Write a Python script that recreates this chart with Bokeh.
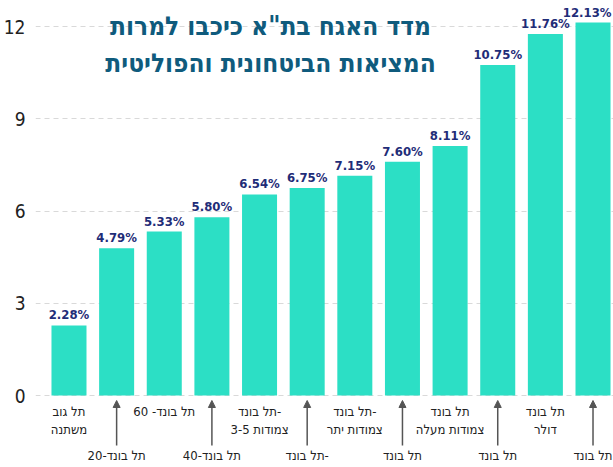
from bokeh.plotting import figure
from bokeh.models import Range1d, FixedTicker, ColumnDataSource, Arrow, NormalHead
from bokeh.core.properties import value
from bokeh.embed import file_html
from bokeh.resources import INLINE

# ---- data ----
labels = [
    "תל גוב\nמשתנה",
    "תל בונד-20",
    "תל בונד- 60",
    "תל בונד-40",
    "תל בונד-\nצמודות 3-5",
    "תל בונד-",
    "תל בונד-\nצמודות יתר",
    "תל בונד",
    "תל בונד\nצמודות מעלה",
    "תל בונד",
    "תל בונד\nדולר",
    "תל בונד",
]
values = [2.28, 4.79, 5.33, 5.80, 6.54, 6.75, 7.15, 7.60, 8.11, 10.75, 11.76, 12.13]
y_ticks = [0, 3, 6, 9, 12]
title_text = "מדד האגח בת\"א כיכבו למרות\nהמציאות הביטחונית והפוליטית"

FONT = "DejaVu Sans Condensed"
BAR = "#2cdfc5"
NAVY = "#1f2d78"
TITLE_C = "#0f5b7d"

W, H = 613, 467
LEFT = 35
X0, X1 = -0.703, 11.43
PX_X = (W - LEFT) / (X1 - X0)   # px per category
PX_Y = 30.75                    # px per unit
VAL_FS = 13

idx = list(range(len(values)))
vlab = [f"{v:.2f}%" for v in values]
# keep value labels inside the right edge of the frame
est_w = [VAL_FS * (0.626 * sum(c.isdigit() for c in s) + 0.342 + 0.902) for s in vlab]
xoff = [min(0.0, (W - LEFT - 2) - ((i - X0) * PX_X + w / 2)) for i, w in zip(idx, est_w)]
src = ColumnDataSource(dict(x=idx, top=values, vlab=vlab, xoff=xoff))

up = [i for i in idx if i % 2 == 0]
lo = [i for i in idx if i % 2 == 1]
src_up = ColumnDataSource(dict(x=up, y=[0] * len(up), lab=[labels[i] for i in up]))
src_lo = ColumnDataSource(dict(x=lo, y=[0] * len(lo), lab=[labels[i] for i in lo]))

p = figure(width=W, height=H, output_backend="svg", toolbar_location=None,
           x_range=Range1d(X0, X1), y_range=Range1d(-72 / PX_Y, 395 / PX_Y),
           x_axis_location=None, min_border_left=LEFT, min_border_right=0,
           min_border_top=0, min_border_bottom=0)
p.outline_line_color = None
p.background_fill_color = "white"

# y axis
ax = p.yaxis[0]
ax.ticker = FixedTicker(ticks=y_ticks)
ax.axis_line_color = None
ax.major_tick_line_color = None
ax.minor_tick_line_color = None
ax.major_tick_out = 0
ax.major_label_standoff = 10
ax.major_label_text_font = FONT
ax.major_label_text_font_size = "19px"
ax.major_label_text_color = "#222222"

p.ygrid.ticker = FixedTicker(ticks=y_ticks)
p.ygrid.grid_line_color = "#d9d9d9"
p.ygrid.grid_line_dash = "5 4"
for g in p.xgrid:
    g.visible = False

# bars
p.vbar(x="x", top="top", bottom=0, width=0.735, source=src,
       fill_color=BAR, line_color=None)

# value labels
p.text(x="x", y="top", text="vlab", source=src, text_align="center",
       text_baseline="bottom", y_offset=-3, x_offset="xoff", text_font=value(FONT),
       text_font_style="bold", text_font_size=f"{VAL_FS}px", text_color=NAVY)

# category labels (upper row)
p.text(x="x", y="y", text="lab", source=src_up, text_align="center",
       text_baseline="top", y_offset=8, text_font=value(FONT),
       text_font_size="13px", text_color="#222222", text_line_height=1.25)
# category labels (lower row)
p.text(x="x", y="y", text="lab", source=src_lo, text_align="center",
       text_baseline="top", y_offset=52, text_font=value(FONT),
       text_font_size="13px", text_color="#222222")

# arrows for lower row
asrc = ColumnDataSource(dict(x=lo, ys=[-50 / PX_Y] * len(lo), ye=[-5 / PX_Y] * len(lo)))
p.add_layout(Arrow(x_start="x", y_start="ys", x_end="x", y_end="ye", source=asrc,
                   line_color="#555555", line_width=1.5,
                   end=NormalHead(size=7, fill_color="#555555", line_color="#555555")))

# title
tsrc = ColumnDataSource(dict(x=[(270 - LEFT) / PX_X + X0], y=[(395 - 10) / PX_Y], t=[title_text]))
p.text(x="x", y="y", text="t", source=tsrc, text_align="center", text_baseline="top",
       text_font=value(FONT), text_font_style="bold", text_font_size="26px",
       text_color=TITLE_C, text_line_height=1.25)

open("out.html", "w").write(file_html(p, INLINE))
